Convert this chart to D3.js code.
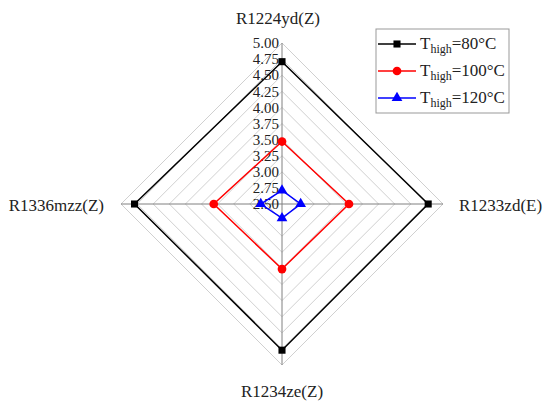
<!DOCTYPE html>
<html>
<head>
<meta charset="utf-8">
<script src="https://cdn.jsdelivr.net/npm/d3@7"></script>
<style>
  body { margin: 0; background: #fff; }
</style>
</head>
<body>
<div id="chart"></div>
<script>
// data
const categories = ["R1224yd(Z)", "R1233zd(E)", "R1234ze(Z)", "R1336mzz(Z)"];
const ticks = [2.50, 2.75, 3.00, 3.25, 3.50, 3.75, 4.00, 4.25, 4.50, 4.75, 5.00];
const seriesNames = ["80", "100", "120"];
const t80 = [4.71, 4.77, 4.77, 4.79];
const t100 = [3.47, 3.54, 3.51, 3.56];
const t120 = [2.71, 2.79, 2.72, 2.83];

const W = 544, H = 406;
const CX = 282, CY = 204, R = 161;
const FONT = "'Liberation Serif', 'Times New Roman', Times, 'DejaVu Serif', serif";

const svg = d3.select("#chart").append("svg")
  .attr("width", W).attr("height", H)
  .attr("font-family", FONT);

const r = d3.scaleLinear().domain([2.5, 5]).range([0, R]);
const angle = d3.scalePoint().domain(categories).range([0, 2 * Math.PI * 3 / 4]);

const pt = (cat, v) => {
  const a = angle(cat);
  return [CX + Math.sin(a) * r(v), CY - Math.cos(a) * r(v)];
};

const g = svg.append("g");

// grid rings
ticks.slice(1).forEach(t => {
  g.append("path")
    .attr("d", d3.line()(categories.map(c => pt(c, t))) + "Z")
    .attr("fill", "none")
    .attr("stroke", "#d0d0d0")
    .attr("stroke-width", 1);
});

// axes
categories.forEach(c => {
  const p = pt(c, 5);
  g.append("line")
    .attr("x1", CX).attr("y1", CY)
    .attr("x2", p[0]).attr("y2", p[1])
    .attr("stroke", "#808080").attr("stroke-width", 1);
});

// tick labels on the top axis
g.selectAll(".tick").data(ticks).enter()
  .append("text")
  .attr("x", CX - 3)
  .attr("y", d => CY - r(d))
  .attr("dy", "0.35em")
  .attr("text-anchor", "end")
  .attr("font-size", 15)
  .attr("fill", "#222")
  .text(d => d.toFixed(2));

// category labels
const labelPos = [
  { x: 278, y: 24, anchor: "middle", dy: 0 },
  { x: 459, y: 205, anchor: "start", dy: "0.35em" },
  { x: 282, y: 397, anchor: "middle", dy: 0 },
  { x: 104, y: 205, anchor: "end", dy: "0.35em" }
];
categories.forEach((c, i) => {
  g.append("text")
    .attr("x", labelPos[i].x).attr("y", labelPos[i].y)
    .attr("dy", labelPos[i].dy)
    .attr("text-anchor", labelPos[i].anchor)
    .attr("font-size", 17)
    .attr("fill", "#222")
    .text(c);
});

const series = [
  { name: seriesNames[0], values: t80, color: "#000000", shape: d3.symbolSquare, size: 50 },
  { name: seriesNames[1], values: t100, color: "#ff0000", shape: d3.symbolCircle, size: 60 },
  { name: seriesNames[2], values: t120, color: "#0000ff", shape: d3.symbolTriangle, size: 50 }
];

series.forEach(s => {
  const pts = categories.map((c, i) => pt(c, s.values[i]));
  g.append("path")
    .attr("d", d3.line()(pts) + "Z")
    .attr("fill", "none")
    .attr("stroke", s.color)
    .attr("stroke-width", 1.5);
  g.selectAll(null).data(pts).enter()
    .append("path")
    .attr("transform", d => `translate(${d[0]},${d[1]})`)
    .attr("d", d3.symbol().type(s.shape).size(s.size))
    .attr("fill", s.color);
});

// legend
const leg = svg.append("g").attr("transform", "translate(376,29)");
leg.append("rect")
  .attr("width", 133).attr("height", 84)
  .attr("fill", "#fff").attr("stroke", "#999").attr("stroke-width", 1);
series.forEach((s, i) => {
  const y = 15 + i * 27;
  leg.append("line")
    .attr("x1", 2).attr("x2", 40).attr("y1", y).attr("y2", y)
    .attr("stroke", s.color).attr("stroke-width", 1.5);
  leg.append("path")
    .attr("transform", `translate(21,${y})`)
    .attr("d", d3.symbol().type(s.shape).size(s.size))
    .attr("fill", s.color);
  const t = leg.append("text")
    .attr("x", 44).attr("y", y + 5)
    .attr("font-size", 17)
    .attr("fill", "#222");
  t.append("tspan").text("T");
  t.append("tspan").attr("font-size", 12).attr("dy", 4).text("high");
  t.append("tspan").attr("dy", -4).text("=" + s.name + "°C");
});
</script>
</body>
</html>
